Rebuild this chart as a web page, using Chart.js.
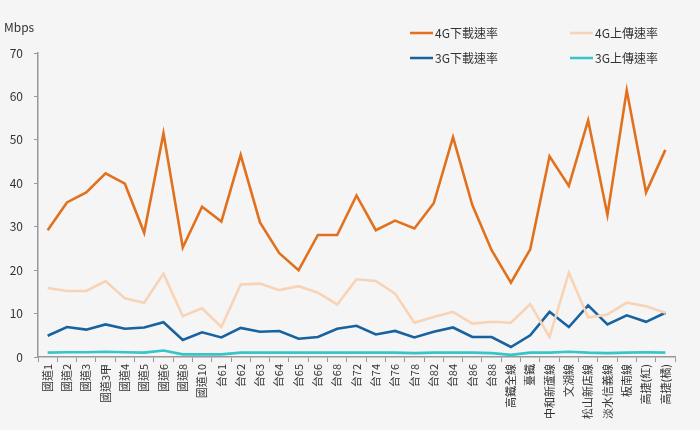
<!DOCTYPE html>
<html>
<head>
<meta charset="utf-8">
<script src="https://cdn.jsdelivr.net/npm/chart.js@4.4.1/dist/chart.umd.min.js"></script>
<style>
  html, body { margin: 0; padding: 0; background: #f5f5f5; }
  #wrap { width: 700px; height: 430px; }
</style>
</head>
<body>
<div id="wrap"><canvas id="c" width="700" height="430"></canvas></div>
<script>
const categories = ['國道1','國道2','國道3','國道3甲','國道4','國道5','國道6','國道8','國道10','台61','台62','台63','台64','台65','台66','台68','台72','台74','台76','台78','台82','台84','台86','台88','高鐵全線','臺鐵','中和新蘆線','文湖線','松山新店線','淡水信義線','板南線','高捷(紅)','高捷(橘)'];
const down4G = [29.2,35.6,37.9,42.3,39.9,28.6,51.5,25.2,34.6,31.2,46.5,31.0,23.9,20.0,28.1,28.1,37.2,29.2,31.4,29.6,35.4,50.6,35.0,24.6,17.1,24.8,46.2,39.4,54.5,32.7,61.4,37.9,47.7];
const up4G = [15.9,15.2,15.2,17.5,13.5,12.5,19.2,9.4,11.2,6.9,16.7,16.9,15.4,16.3,14.8,12.1,17.9,17.5,14.6,7.9,9.2,10.4,7.7,8.1,7.9,12.2,4.6,19.4,9.1,9.8,12.5,11.7,10.2];
const down3G = [4.9,6.9,6.3,7.5,6.5,6.8,8.0,3.9,5.7,4.5,6.7,5.8,6.0,4.2,4.6,6.5,7.2,5.2,6.0,4.5,5.8,6.8,4.6,4.6,2.3,5.0,10.4,6.9,11.9,7.5,9.6,8.1,10.2];
const up3G = [1.0,1.1,1.1,1.2,1.1,1.0,1.5,0.6,0.6,0.6,1.0,1.0,1.0,1.0,1.0,1.0,1.0,1.0,1.0,0.9,1.0,1.0,1.0,0.9,0.5,1.0,1.0,1.2,1.0,0.9,1.0,1.1,1.0];
const seriesNames = ['4G下載速率','4G上傳速率','3G下載速率','3G上傳速率'];
const unitLabel = 'Mbps';

const FONT = '"Noto Sans CJK TC", "Noto Sans", sans-serif';
const colors = ['#E2711D', '#F8D3B6', '#17629F', '#36C5C9'];

const legendPlugin = {
  id: 'customLegend',
  afterDraw(chart) {
    const ctx = chart.ctx;
    ctx.save();
    const pos = [[410, 33], [570, 33], [410, 58], [570, 58]];
    ctx.font = '12px ' + FONT;
    ctx.textBaseline = 'middle';
    ctx.textAlign = 'left';
    chart.data.datasets.forEach((ds, i) => {
      const [x, y] = pos[i];
      ctx.strokeStyle = ds.borderColor;
      ctx.lineWidth = 2.5;
      ctx.beginPath();
      ctx.moveTo(x, y);
      ctx.lineTo(x + 23, y);
      ctx.stroke();
      ctx.fillStyle = '#333';
      ctx.fillText(ds.label, x + 25, y);
    });
    ctx.font = '12px ' + FONT;
    ctx.fillStyle = '#333';
    ctx.fillText(unitLabel, 4, 27);
    ctx.restore();
  }
};

const mk = (i, data) => ({
  label: seriesNames[i],
  data: data,
  borderColor: colors[i],
  backgroundColor: colors[i],
  borderWidth: 2.6,
  pointRadius: 0,
  tension: 0,
  fill: false
});

new Chart(document.getElementById('c'), {
  type: 'line',
  data: {
    labels: categories,
    datasets: [mk(0, down4G), mk(1, up4G), mk(2, down3G), mk(3, up3G)]
  },
  options: {
    responsive: false,
    animation: false,
    layout: { padding: { top: 53, right: 25, left: 0, bottom: 0 } },
    plugins: { legend: { display: false }, tooltip: { enabled: false } },
    scales: {
      x: {
        offset: true,
        grid: { display: true, drawOnChartArea: false, drawTicks: true, tickLength: 5, offset: true, color: '#999' },
        border: { display: true, color: '#999', width: 1.5 },
        ticks: {
          autoSkip: false, maxRotation: 90, minRotation: 90,
          color: '#333', font: { family: FONT, size: 11 }, padding: 2
        },
        afterFit(s) { s.height = 73; }
      },
      y: {
        min: 0, max: 70,
        grid: { display: true, drawOnChartArea: false, drawTicks: true, tickLength: 4, color: '#999' },
        border: { display: true, color: '#999', width: 1.5 },
        ticks: { stepSize: 10, color: '#333', font: { family: FONT, size: 12 }, padding: 11 },
        afterFit(s) { s.width = 38; }
      }
    }
  },
  plugins: [legendPlugin]
});
</script>
</body>
</html>
